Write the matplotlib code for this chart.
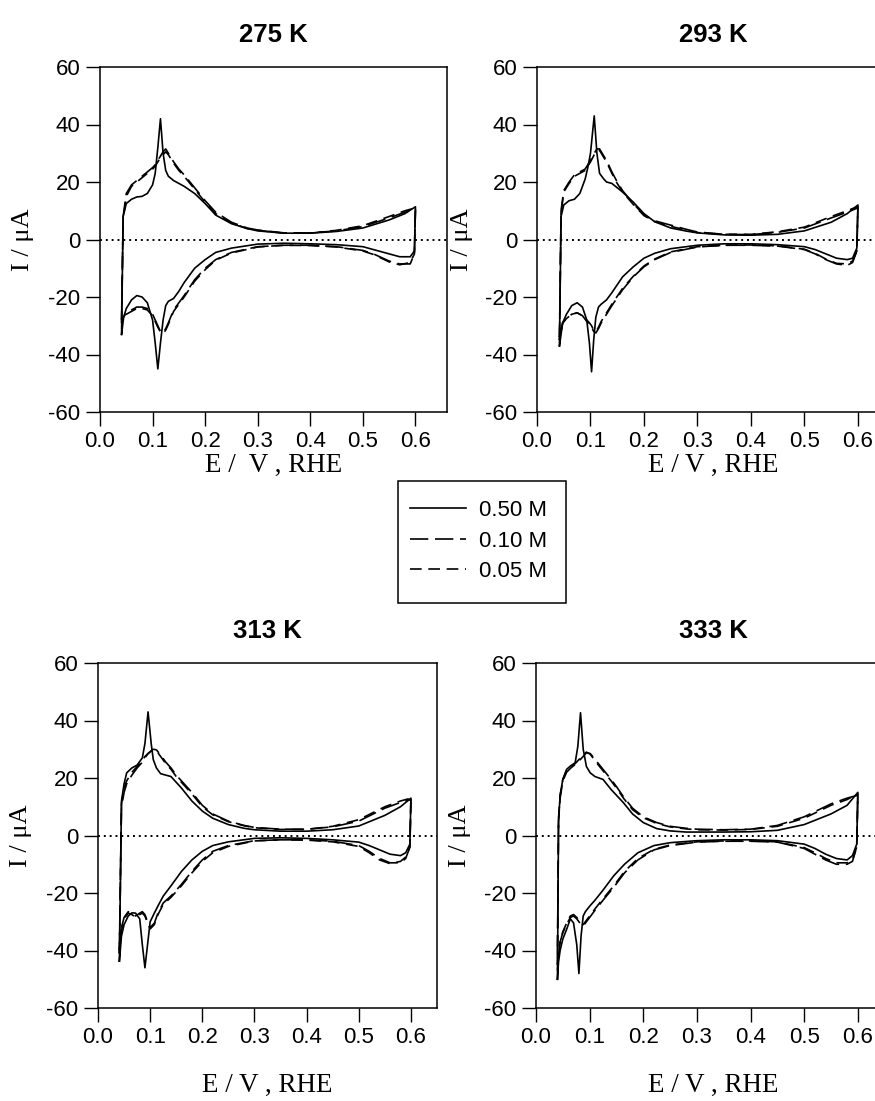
import matplotlib
matplotlib.use("Agg")
import matplotlib.pyplot as plt
from matplotlib.patches import Rectangle

# ---------------- data ----------------
panel_titles = ["275 K", "293 K", "313 K", "333 K"]
series_labels = ["0.50 M", "0.10 M", "0.05 M"]
x_ticks = [0.0, 0.1, 0.2, 0.3, 0.4, 0.5, 0.6]
y_ticks = [-60, -40, -20, 0, 20, 40, 60]

# 275 K
E_up_275 = [0.041, 0.044, 0.05, 0.06, 0.07, 0.08, 0.09, 0.10, 0.105, 0.11, 0.115, 0.12, 0.125, 0.13, 0.14,
            0.15, 0.16, 0.18, 0.20, 0.22, 0.25, 0.28, 0.30, 0.35, 0.40, 0.45, 0.50, 0.55, 0.58, 0.60]
I_up_275_050 = [-33, 8, 12.5, 14, 14.8, 15, 16, 19, 23, 32, 42, 30, 24, 22, 20.5,
                19.5, 18.5, 16, 12.5, 8.5, 5.5, 3.8, 3, 2.2, 2.2, 2.8, 4, 6.8, 9, 11.4]
I_up_275_010 = [-28, 8, 16, 19, 20.5, 22, 23.5, 25, 26, 27.5, 29, 30.5, 31.5, 30, 27,
                24.5, 22.5, 18, 13.5, 9.5, 6, 4, 3.3, 2.3, 2.3, 3, 4.5, 7.5, 9.5, 10.5]
I_up_275_005 = [-29, 7, 15, 18.5, 20, 21.5, 23, 24.5, 25.5, 27, 28.5, 29.5, 30.5, 29.5, 26.5,
                24, 22, 17.5, 13, 9, 5.8, 3.8, 3.2, 2.2, 2.2, 3.2, 4.8, 8, 10, 11]
E_dn_275 = [0.60, 0.598, 0.59, 0.57, 0.55, 0.52, 0.50, 0.45, 0.40, 0.35, 0.30, 0.25, 0.22, 0.20, 0.18, 0.16,
            0.15, 0.14, 0.13, 0.125, 0.12, 0.115, 0.11, 0.105, 0.10, 0.09, 0.08, 0.07, 0.06, 0.05, 0.045, 0.041]
I_dn_275_050 = [11.4, -4, -6, -6, -5, -3.5, -2.5, -1.8, -1.5, -1.3, -1.6, -3, -4.5, -7, -10, -15,
                -18, -20.5, -21.5, -23, -28, -36, -45, -36, -28, -22, -20, -19.5, -21, -24, -27, -33]
I_dn_275_010 = [10.5, -5, -8.5, -8.5, -7.5, -5, -3.8, -2.5, -2, -2, -2.5, -4.5, -7, -10, -14, -19.5,
                -22, -24.5, -29, -31, -32.5, -32, -30, -28, -26, -24, -23.5, -23.5, -24.5, -25.5, -27, -28]
I_dn_275_005 = [11, -5, -8, -8.8, -7.8, -5.2, -4, -2.6, -2.1, -2, -2.6, -4.7, -7.2, -10.5, -14.5, -20,
                -22.5, -25, -29.5, -31.5, -32.8, -32.2, -30.5, -28.5, -26.5, -24.5, -24, -24, -25, -26, -27.5, -29]

# 293 K
E_up_293 = [0.042, 0.045, 0.05, 0.06, 0.07, 0.08, 0.09, 0.095, 0.10, 0.107, 0.112, 0.117, 0.125, 0.13, 0.14,
            0.15, 0.16, 0.18, 0.20, 0.22, 0.25, 0.28, 0.30, 0.35, 0.40, 0.45, 0.50, 0.55, 0.58, 0.60]
I_up_293_050 = [-37, 8, 12, 13.5, 14, 16, 21, 25, 30, 43, 30, 23, 21, 20, 19.5,
                18, 16.5, 13, 9, 6.2, 4, 2.9, 2.3, 1.6, 1.5, 1.8, 3, 6, 9, 12]
I_up_293_010 = [-35, 10, 17, 20, 22.5, 23.5, 24.5, 26, 27.5, 30, 31.5, 31.5, 29, 27.5, 23.5,
                20, 17, 12.5, 8.5, 6.5, 5, 3.5, 2.6, 1.8, 1.7, 2.5, 4, 7.5, 9.5, 11]
I_up_293_005 = [-34, 9, 16.5, 19.5, 22, 23, 24, 25.5, 27, 29.5, 31, 31, 28.5, 27, 23,
                19.5, 16.5, 12.2, 8.3, 6.2, 4.6, 3.2, 2.4, 1.8, 1.8, 2.7, 4.3, 8, 10, 11.5]
E_dn_293 = [0.60, 0.598, 0.59, 0.58, 0.56, 0.54, 0.52, 0.50, 0.45, 0.40, 0.35, 0.30, 0.25, 0.22, 0.20, 0.18,
            0.16, 0.14, 0.13, 0.12, 0.115, 0.11, 0.106, 0.102, 0.098, 0.093, 0.085, 0.075, 0.065, 0.055, 0.048, 0.042]
I_dn_293_050 = [12, -3, -6.5, -7, -6.5, -5, -3.5, -2.5, -1.8, -1.5, -1.5, -2, -3.2, -4.8, -6.5, -9.5,
                -13, -18.5, -21, -22.5, -23.5, -27, -35, -46, -36, -28, -23.5, -22, -23, -26, -29, -37]
I_dn_293_010 = [11, -4, -8, -9, -8.5, -7, -5, -3.5, -2.3, -2, -2, -2.6, -4.5, -7, -9.5, -13,
                -17.5, -23, -26, -29, -31, -32.5, -32, -30.5, -29.5, -28.5, -26.5, -25.5, -26, -27.5, -29, -35]
I_dn_293_005 = [11.5, -4, -7.5, -8.5, -8.3, -6.8, -4.8, -3.4, -2.2, -1.9, -2, -2.5, -4.3, -6.8, -9.2, -12.8,
                -17, -22.5, -25.5, -28.5, -30.5, -32, -31.5, -30, -29, -28, -26.5, -25.5, -26, -27.5, -29, -34]

# 313 K
E_up_313 = [0.041, 0.045, 0.05, 0.055, 0.065, 0.075, 0.085, 0.09, 0.096, 0.102, 0.106, 0.112, 0.12, 0.13, 0.14,
            0.15, 0.16, 0.18, 0.20, 0.22, 0.25, 0.28, 0.30, 0.35, 0.40, 0.45, 0.50, 0.55, 0.58, 0.60]
I_up_313_050 = [-43.7, 12, 18, 21.8, 23.5, 24.5, 27, 32, 43, 32, 26.4, 23.5, 21.5, 21, 20.5,
                18.5, 16.5, 12, 8.5, 6, 3.8, 2.5, 2, 1.5, 1.5, 2, 3.3, 7, 10, 13]
I_up_313_010 = [-40, 10, 15, 18, 21, 23.5, 25.5, 27, 28.5, 29.5, 30, 29.8, 28, 25.5, 23.5,
                21, 19, 15, 10.5, 7.5, 5, 3.5, 2.8, 2.2, 2.2, 3, 5, 9.5, 11.5, 12.5]
I_up_313_005 = [-41, 11, 16.5, 19, 22, 24, 26, 27.5, 28.5, 29.3, 29.6, 29.5, 27.5, 25, 23,
                20.5, 18.5, 14.5, 10, 7.2, 4.8, 3.4, 2.7, 2.1, 2.1, 3.2, 5.5, 10, 12, 13]
E_dn_313 = [0.60, 0.598, 0.59, 0.58, 0.56, 0.54, 0.52, 0.50, 0.45, 0.40, 0.35, 0.30, 0.25, 0.22, 0.20, 0.18,
            0.16, 0.14, 0.125, 0.115, 0.108, 0.10, 0.095, 0.09, 0.085, 0.08, 0.072, 0.065, 0.058, 0.05, 0.045, 0.041]
I_dn_313_050 = [13, -3, -6, -7, -6.5, -5, -3.5, -2.3, -1.5, -1, -0.8, -1, -2.2, -3.5, -5.5, -8.5,
                -12.5, -17.5, -21.1, -24.5, -27, -30, -38, -46, -38, -29, -27, -26.9, -28, -31, -35, -43.7]
I_dn_313_010 = [12.5, -4, -8, -9.5, -9.5, -8, -5.5, -3.5, -2, -1.5, -1.5, -1.8, -3.5, -5.5, -8.5, -12.5,
                -17, -21, -23.5, -27, -30.5, -32, -30, -27.5, -26.5, -27, -28, -27, -26.5, -28.5, -32, -40]
I_dn_313_005 = [13, -4, -7.5, -9, -9.8, -8.5, -6, -3.8, -2.2, -1.6, -1.5, -1.9, -3.8, -6, -9, -13,
                -17.5, -21.5, -24, -27.5, -31, -32.5, -30.5, -28, -27, -27.5, -28.5, -27.5, -27, -29, -33, -41]

# 333 K
E_up_333 = [0.04, 0.042, 0.045, 0.05, 0.057, 0.065, 0.073, 0.078, 0.083, 0.088, 0.094, 0.101, 0.11, 0.125, 0.14,
            0.15, 0.163, 0.18, 0.20, 0.225, 0.25, 0.28, 0.30, 0.35, 0.40, 0.45, 0.50, 0.55, 0.58, 0.60]
I_up_333_050 = [-50, 5, 14, 19.5, 23, 24.3, 25.3, 31, 42.7, 30, 24, 21.8, 20.5, 19.5, 16,
                14, 11.4, 7.5, 4.5, 2.4, 1.6, 1.2, 1.2, 1.2, 1.3, 1.8, 3.8, 7.5, 10.5, 15]
I_up_333_010 = [-41, 5, 13, 19, 22, 23.5, 24.7, 25.5, 26.5, 27.5, 28.8, 28.5, 26.5, 23, 19.5,
                17, 13.5, 9.5, 6.5, 4.5, 3.2, 2.5, 2.2, 2, 2.2, 3.5, 6.5, 11, 13, 14]
I_up_333_005 = [-45, 6, 14, 19.5, 22.5, 24, 25, 26, 27, 28, 29, 28.3, 26, 22.5, 19,
                16.5, 13, 9, 6.2, 4.2, 3, 2.3, 2, 1.9, 2.1, 3.2, 6, 10.5, 12.5, 14.5]
E_dn_333 = [0.60, 0.598, 0.59, 0.58, 0.56, 0.54, 0.52, 0.50, 0.45, 0.40, 0.35, 0.30, 0.25, 0.22, 0.19, 0.165,
            0.145, 0.125, 0.11, 0.10, 0.092, 0.088, 0.084, 0.08, 0.076, 0.07, 0.064, 0.057, 0.05, 0.045, 0.042, 0.04]
I_dn_333_050 = [15, -3, -7, -8.5, -8, -6.5, -4.5, -3, -1.8, -1.5, -1.5, -1.8, -2.5, -3.5, -6, -10,
                -14, -19, -22.5, -24.6, -26.5, -28, -35, -48, -38, -30.4, -29, -32.7, -36, -40, -44, -50]
I_dn_333_010 = [14, -4, -9, -10, -10, -8.5, -6.5, -4.5, -2.3, -2, -2, -2.3, -3.5, -5, -8.5, -13,
                -18, -22.5, -26, -28.5, -30.5, -31.5, -31, -30, -29, -28, -28.5, -31, -33.8, -37, -41, -45]
I_dn_333_005 = [14.5, -4, -8.5, -9.5, -9.5, -8, -6, -4.2, -2.2, -1.9, -1.9, -2.2, -3.3, -4.8, -8, -12.5,
                -17.5, -22, -25.5, -28, -30, -31, -30.5, -29.5, -28.5, -27.5, -28, -30.5, -33.5, -37, -42, -47]

panels = [
    (E_up_275, [I_up_275_050, I_up_275_010, I_up_275_005], E_dn_275, [I_dn_275_050, I_dn_275_010, I_dn_275_005]),
    (E_up_293, [I_up_293_050, I_up_293_010, I_up_293_005], E_dn_293, [I_dn_293_050, I_dn_293_010, I_dn_293_005]),
    (E_up_313, [I_up_313_050, I_up_313_010, I_up_313_005], E_dn_313, [I_dn_313_050, I_dn_313_010, I_dn_313_005]),
    (E_up_333, [I_up_333_050, I_up_333_010, I_up_333_005], E_dn_333, [I_dn_333_050, I_dn_333_010, I_dn_333_005]),
]

# ---------------- styling ----------------
W, H = 875, 1101
fig = plt.figure(figsize=(W / 100, H / 100), dpi=100)
sans = ["Liberation Sans", "DejaVu Sans"]
serif = ["Liberation Serif", "DejaVu Serif"]

styles = [
    dict(linestyle="-", linewidth=1.2),
    dict(linestyle=(0, (11, 4)), linewidth=1.2),
    dict(linestyle=(0, (7, 4)), linewidth=1.2),
]

# axes boxes in pixels: left, top, width, height, xmax
boxes = [
    (100, 67, 347, 345, 0.66),
    (537, 67, 353, 345, 0.66),
    (98, 663, 339, 345, 0.65),
    (536, 663, 354, 345, 0.66),
]
ylabel_cx = [23, 462, 21, 460]
xlabel_cy = [465, 465, 1085, 1085]
xlabels = ["E /  V , RHE", "E / V , RHE", "E / V , RHE", "E / V , RHE"]

axes = []
for k, (left, top, w, h, xmax) in enumerate(boxes):
    ax = fig.add_axes([left / W, 1 - (top + h) / H, w / W, h / H])
    axes.append(ax)
    E_up, I_ups, E_dn, I_dns = panels[k]
    ax.axhline(0, color="black", linestyle=(0, (1, 2.0)), linewidth=1.4, zorder=1)
    for j in range(3):
        ax.plot(E_up + E_dn, I_ups[j] + I_dns[j], color="black", zorder=2,
                label=series_labels[j], **styles[j])
    ax.set_xlim(0, xmax)
    ax.set_ylim(-60, 60)
    ax.set_xticks(x_ticks)
    ax.set_xticklabels([f"{v:.1f}" for v in x_ticks], family=sans, fontsize=16)
    ax.set_yticks(y_ticks)
    ax.set_yticklabels([str(v) for v in y_ticks], family=sans, fontsize=16)
    ax.tick_params(direction="out", length=10, width=1.0, pad=4, top=False, right=False)
    for s in ax.spines.values():
        s.set_linewidth(1.1)
    # axis labels placed at the reference pixel centres
    ax.text((ylabel_cx[k] - left) / w, 0.5, "I / μA", transform=ax.transAxes, rotation=90,
            ha="center", va="center", family=serif, fontsize=19)
    ax.text(0.5, (top + h - xlabel_cy[k]) / h, xlabels[k], transform=ax.transAxes,
            ha="center", va="center", family=serif, fontsize=19.5)
    ax.text(0.5, 1 + (67 - 35) / h, panel_titles[k], transform=ax.transAxes,
            ha="center", va="center", family=sans, fontsize=18.5, fontweight="bold")

# legend box in the middle of the figure
fig.patches.append(Rectangle((398 / W, 1 - 603 / H), (566 - 398) / W, (603 - 481) / H,
                             transform=fig.transFigure, fill=False, edgecolor="black",
                             linewidth=1.1, zorder=5))
handles, labels = axes[0].get_legend_handles_labels()
leg = fig.legend(handles, labels, loc="center left",
                 bbox_to_anchor=(410 / W, 1 - 541 / H), frameon=False,
                 prop={"family": sans, "size": 16}, handlelength=2.5, handletextpad=0.6,
                 borderpad=0.0, labelspacing=0.42, borderaxespad=0.0)

fig.savefig("out.png", dpi=100)
